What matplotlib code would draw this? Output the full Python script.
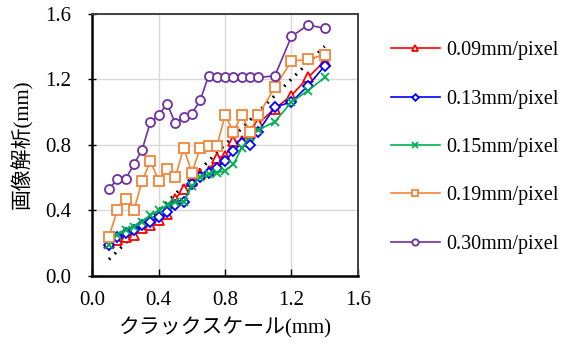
import matplotlib
matplotlib.use("Agg")
import matplotlib.pyplot as plt

plt.rcParams['font.family'] = ['Liberation Serif', 'Noto Sans CJK JP']
plt.rcParams['font.size'] = 15

# ─── data ────────────────────────────────────────────────────────────────────
X_VALS = [0.10, 0.15, 0.20, 0.25, 0.30, 0.35, 0.40, 0.45, 0.50, 0.55, 0.60,
          0.65, 0.70, 0.75, 0.80, 0.85, 0.90, 0.95, 1.00, 1.10, 1.20, 1.30, 1.40]

Y_009 = [0.20, 0.22, 0.24, 0.25, 0.29, 0.31, 0.34, 0.38, 0.47, 0.53, 0.58,
         0.62, 0.64, 0.72, 0.73, 0.82, 0.82, 0.87, 0.93, 1.02, 1.10, 1.21, 1.31]
Y_013 = [0.19, 0.24, 0.26, 0.28, 0.31, 0.33, 0.36, 0.39, 0.43, 0.45, 0.56,
         0.60, 0.63, 0.66, 0.70, 0.76, 0.81, 0.80, 0.88, 1.03, 1.06, 1.16, 1.28]
Y_015 = [0.19, 0.25, 0.28, 0.30, 0.33, 0.37, 0.40, 0.43, 0.45, 0.45, 0.55,
         0.60, 0.62, 0.63, 0.64, 0.68, 0.78, 0.85, 0.89, 0.94, 1.06, 1.13, 1.21]
Y_019 = [0.24, 0.40, 0.47, 0.40, 0.58, 0.70, 0.58, 0.65, 0.60, 0.78, 0.63,
         0.78, 0.79, 0.79, 0.98, 0.88, 0.98, 0.88, 0.98, 1.15, 1.31, 1.32, 1.35]
Y_030 = [0.53, 0.59, 0.59, 0.68, 0.77, 0.94, 0.98, 1.05, 0.93, 0.97, 0.99,
         1.07, 1.22, 1.21, 1.21, 1.21, 1.21, 1.21, 1.21, 1.22, 1.46, 1.53, 1.51]

IDEAL_X = [0.1, 1.4]
IDEAL_Y = [0.1, 1.4]

LABELS = ['0.09mm/pixel', '0.13mm/pixel', '0.15mm/pixel', '0.19mm/pixel', '0.30mm/pixel']
TICKS = [0.0, 0.4, 0.8, 1.2, 1.6]

STYLES = [
    ('#ff0000', '^', 7.0),
    ('#0000ff', 'D', 4.8),
    ('#00b050', 'x', 6.0),
    ('#f0863a', 's', 6.8),
    ('#7030a0', 'o', 6.5),
]


def main() -> None:
    fig = plt.figure(figsize=(5.67, 3.47), dpi=100)
    ax = fig.add_axes([0.163, 0.205, 0.468, 0.756])

    series = [Y_009, Y_013, Y_015, Y_019, Y_030]
    handles = []
    for ys, lab, (col, mk, ms) in zip(series, LABELS, STYLES):
        h, = ax.plot(X_VALS, ys, color=col, lw=1.2, marker=mk, ms=ms,
                     mfc='white', mec=col, mew=1.3, label=lab, zorder=3)
        handles.append(h)

    ax.plot(IDEAL_X, IDEAL_Y, color='black', lw=2.2, ls=(0, (0.6, 2.0)),
            zorder=2)

    ax.set_xlim(0, 1.6)
    ax.set_ylim(0, 1.6)
    ax.set_xticks(TICKS)
    ax.set_yticks(TICKS)
    ax.set_xticklabels([f'{t:.1f}' for t in TICKS])
    ax.set_yticklabels([f'{t:.1f}' for t in TICKS])
    ax.grid(True, color='#d9d9d9', lw=1.0, zorder=0)
    ax.set_axisbelow(True)
    ax.tick_params(axis='x', direction='in', length=5, width=1.0, pad=11)
    ax.tick_params(axis='y', direction='inout', length=6, width=1.0, pad=12)

    for side in ('left', 'bottom'):
        ax.spines[side].set_color('black')
        ax.spines[side].set_linewidth(1.8)
    for side in ('top', 'right'):
        ax.spines[side].set_color('#404040')
        ax.spines[side].set_linewidth(1.4)

    ax.set_xlabel('クラックスケール(mm)', fontsize=15, labelpad=5)
    ax.set_ylabel('画像解析(mm)', fontsize=15, labelpad=9)

    fig.legend(handles=handles, labels=LABELS, loc='upper left',
               bbox_to_anchor=(0.657, 0.933), frameon=False,
               handlelength=2.45, handletextpad=0.3,
               labelspacing=1.45, markerscale=0.7, fontsize=14.5)

    fig.savefig('out.png', dpi=100)
    plt.close(fig)


if __name__ == '__main__':
    main()
